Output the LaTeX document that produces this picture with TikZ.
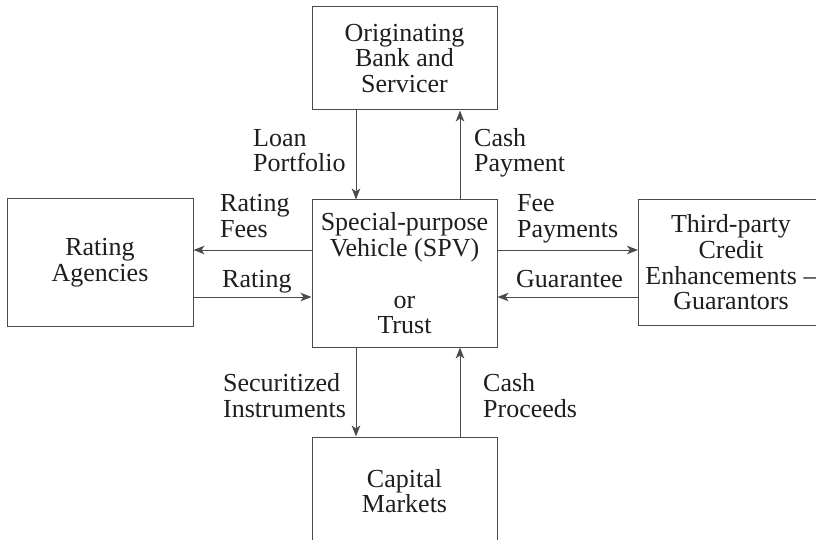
\documentclass[tikz,border=0pt]{standalone}
\usepackage{fontspec}
\setmainfont{Liberation Serif}
\usetikzlibrary{arrows.meta}
\definecolor{linegray}{HTML}{4A4A4A}
\definecolor{textgray}{HTML}{1E1E1E}
\begin{document}
\begin{tikzpicture}[x=1pt,y=-1pt,
  every node/.style={font=\fontsize{26}{25.7}\selectfont, text=textgray},
  box/.style={draw=linegray, line width=1pt, rectangle, align=center, inner sep=0pt},
  lbl/.style={anchor=base west, align=left, inner sep=0pt},
  arr/.style={draw=linegray, line width=1pt, -{Stealth[length=11pt,width=8.5pt,inset=3pt]}}]
\useasboundingbox (0,0) rectangle (816,540);
\fill[white] (0,0) rectangle (816,540);
\clip (0,0) rectangle (816,540);

% boxes
\node[box, minimum width=185pt, minimum height=103pt] (orig) at (404.5,58.5) {Originating\\Bank and\\Servicer};
\node[box, minimum width=185pt, minimum height=147pt] (spv) at (404.5,273.5) {Special-purpose\\Vehicle (SPV)\\[25.7pt]or\\Trust};
\node[box, minimum width=186pt, minimum height=127pt] (rate) at (100,262.5) {Rating\\Agencies};
\node[box, minimum width=185pt, minimum height=125pt] (third) at (731,262.5) {Third-party\\Credit\\Enhancements –\\Guarantors};
\node[box, minimum width=185pt, minimum height=108pt] (cap) at (404.5,491) {Capital\\Markets};

% helper coordinates
\coordinate (xl) at (356,0);
\coordinate (xr) at (460,0);
\coordinate (yu) at (0,250);
\coordinate (yd) at (0,297);

% connectors
\draw[arr] (orig.south -| xl) -- (spv.north -| xl);
\draw[arr] (spv.north -| xr) -- (orig.south -| xr);
\draw[arr] (spv.west |- yu) -- (rate.east |- yu);
\draw[arr] (rate.east |- yd) -- (spv.west |- yd);
\draw[arr] (spv.east |- yu) -- (third.west |- yu);
\draw[arr] (third.west |- yd) -- (spv.east |- yd);
\draw[arr] (spv.south -| xl) -- (cap.north -| xl);
\draw[arr] (cap.north -| xr) -- (spv.south -| xr);

% labels (base anchor = baseline of last line)
\node[lbl] (l1) at (253,172) {Loan\\Portfolio};
\node[lbl] (l2) at (474,172) {Cash\\Payment};
\node[lbl] (l3) at (220,237) {Rating\\Fees};
\node[lbl] (l4) at (222,287) {Rating};
\node[lbl] (l5) at (517,237) {Fee\\Payments};
\node[lbl] (l6) at (516,287) {Guarantee};
\node[lbl] (l7) at (223,417) {Securitized\\Instruments};
\node[lbl] (l8) at (483,417) {Cash\\Proceeds};
\end{tikzpicture}
\end{document}
